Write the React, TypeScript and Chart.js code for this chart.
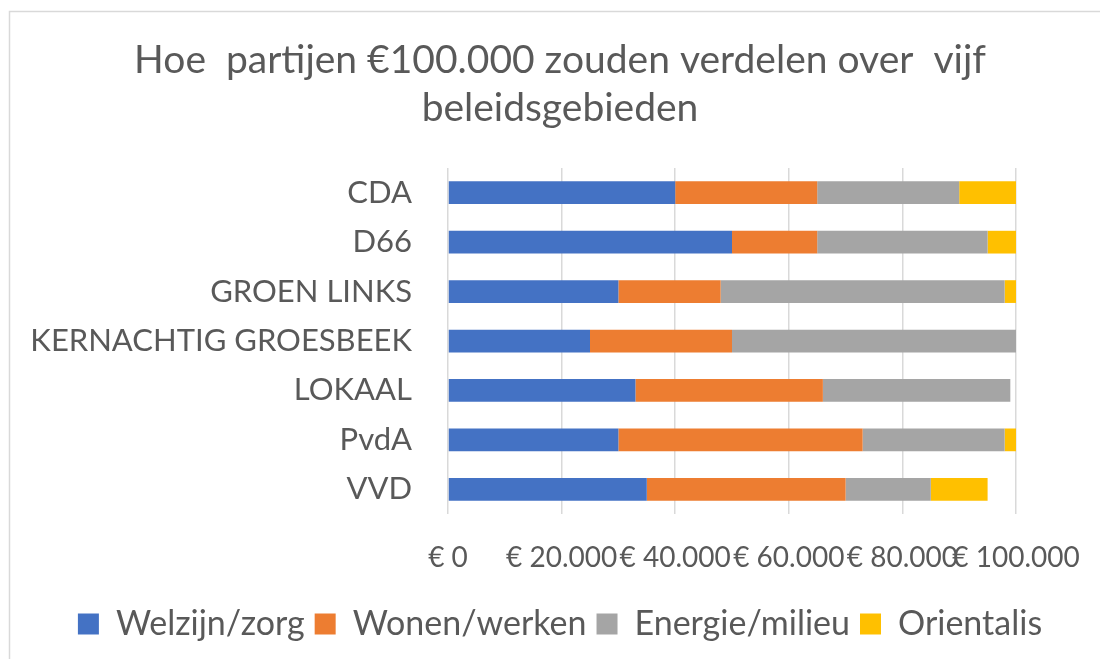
import React, { useEffect, useRef } from 'react';
import { Chart, registerables } from 'chart.js';

Chart.register(...registerables);

const categories = ['CDA', 'D66', 'GROEN LINKS', 'KERNACHTIG GROESBEEK', 'LOKAAL', 'PvdA', 'VVD'];
const welzijnZorg = [40000, 50000, 30000, 25000, 33000, 30000, 35000];
const wonenWerken = [25000, 15000, 18000, 25000, 33000, 43000, 35000];
const energieMilieu = [25000, 30000, 50000, 50000, 33000, 25000, 15000];
const orientalis = [10000, 5000, 2000, 0, 0, 2000, 10000];
const seriesNames = ['Welzijn/zorg', 'Wonen/werken', 'Energie/milieu', 'Orientalis'];
const titleLines = ['Hoe  partijen €100.000 zouden verdelen over  vijf', 'beleidsgebieden'];
const xMin = 0;
const xMax = 100000;
const xStep = 20000;

const FONT = 'Lato, "Open Sans", sans-serif';
const TEXT = '#595959';
const GRID = '#d9d9d9';

const borderPlugin = {
  id: 'outerBorder',
  beforeDraw(chart: any) {
    const ctx = chart.ctx;
    ctx.save();
    ctx.fillStyle = '#ffffff';
    ctx.fillRect(0, 0, chart.width, chart.height);
    ctx.strokeStyle = GRID;
    ctx.lineWidth = 1.5;
    ctx.strokeRect(9.5, 11.5, chart.width + 20, chart.height + 20);
    ctx.restore();
  },
};

function euro(v: number) {
  if (v === 0) return '€ 0';
  return '€ ' + v.toLocaleString('nl-NL').replace(/,/g, '.');
}

export default function App() {
  const ref = useRef<HTMLCanvasElement>(null);
  useEffect(() => {
    if (!ref.current) return;
    const chart = new Chart(ref.current, {
      type: 'bar',
      data: {
        labels: categories,
        datasets: [
          { label: seriesNames[0], data: welzijnZorg, backgroundColor: '#4472c4' },
          { label: seriesNames[1], data: wonenWerken, backgroundColor: '#ed7d31' },
          { label: seriesNames[2], data: energieMilieu, backgroundColor: '#a5a5a5' },
          { label: seriesNames[3], data: orientalis, backgroundColor: '#ffc000' },
        ],
      },
      plugins: [borderPlugin],
      options: {
        indexAxis: 'y',
        responsive: false,
        animation: false,
        events: [],
        layout: { padding: { left: 20, right: 0, top: 0, bottom: 8 } },
        datasets: { bar: { categoryPercentage: 0.92, barPercentage: 0.5, borderWidth: 0 } },
        scales: {
          x: {
            stacked: true,
            min: xMin,
            max: xMax,
            afterBuildTicks(scale: any) {
              const t = [];
              for (let v = xMin; v <= xMax; v += xStep) t.push({ value: v });
              scale.ticks = t;
            },
            afterFit(scale: any) {
              scale.height = 83;
              scale.paddingLeft = 0;
              scale.paddingRight = 0;
            },
            grid: { color: GRID, lineWidth: 1.5, drawTicks: false },
            border: { display: false },
            ticks: {
              autoSkip: false,
              maxRotation: 0,
              minRotation: 0,
              padding: 27,
              color: TEXT,
              font: { family: FONT, size: 28 },
              callback: (v: any) => euro(Number(v)),
            },
          },
          y: {
            stacked: true,
            clip: false,
            afterFit(scale: any) {
              scale.width = 428;
            },
            grid: { display: false, drawTicks: false },
            border: { display: false },
            ticks: {
              padding: 36,
              color: TEXT,
              font: { family: FONT, size: 31 },
            },
          },
          spacer: {
            type: 'linear',
            position: 'right',
            display: true,
            afterFit(scale: any) {
              scale.width = 84;
            },
            grid: { display: false, drawTicks: false },
            border: { display: false },
            ticks: { display: false },
          },
        },
        plugins: {
          tooltip: { enabled: false },
          title: {
            display: true,
            text: titleLines,
            color: TEXT,
            font: { family: FONT, size: 39, weight: 'normal', lineHeight: 1.231 },
            padding: { top: 36, bottom: 36 },
          },
          legend: {
            position: 'bottom',
            labels: {
              boxWidth: 21,
              boxHeight: 21,
              padding: 10,
              color: TEXT,
              font: { family: FONT, size: 34 },
            },
          },
        },
      } as any,
    });
    return () => chart.destroy();
  }, []);
  return (
    <div style={{ position: 'absolute', left: 0, top: 0, width: 1100, height: 659 }}>
      <canvas ref={ref} width={1100} height={659} />
    </div>
  );
}
